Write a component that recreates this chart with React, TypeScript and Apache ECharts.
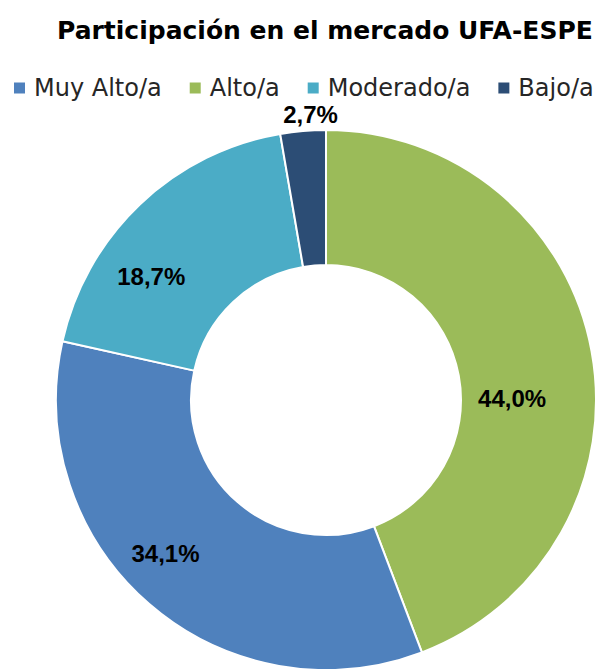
import React, { useEffect, useRef } from "react";
import * as echarts from "echarts";

const title = "Participación en el mercado UFA-ESPE";
const sliceNames = ["Alto/a", "Muy Alto/a", "Moderado/a", "Bajo/a"];
const sliceValues = [44.0, 34.1, 18.7, 2.7];
const sliceLabels = ["44,0%", "34,1%", "18,7%", "2,7%"];
const sliceColors = ["#9bbb59", "#4f81bd", "#4bacc6", "#2c4d75"];
const legendOrder = ["Muy Alto/a", "Alto/a", "Moderado/a", "Bajo/a"];
const labelShift = [
  [-16, 36],
  [-26, -2],
  [-33, 25],
  [2, -81],
];

export default function App() {
  const ref = useRef<HTMLDivElement>(null);
  useEffect(() => {
    if (!ref.current) return;
    const chart = echarts.init(ref.current, null, { renderer: "svg" });
    chart.setOption({
      animation: false,
      backgroundColor: "#ffffff",
      title: {
        text: title,
        left: 52,
        top: 13,
        textStyle: {
          fontFamily: "DejaVu Sans, sans-serif",
          fontSize: 25,
          fontWeight: "bold",
          color: "#000000",
        },
      },
      legend: {
        data: legendOrder,
        top: 71,
        left: 7,
        width: 592,
        padding: 5,
        itemWidth: 13,
        itemHeight: 13,
        itemGap: 26,
        icon: "rect",
        textStyle: {
          fontFamily: "DejaVu Sans, sans-serif",
          fontSize: 24,
          color: "#262626",
          padding: [0, 0, 0, 3],
        },
      },
      series: [
        {
          type: "pie",
          center: [326, 400],
          radius: [135, 270],
          startAngle: 90,
          clockwise: true,
          avoidLabelOverlap: false,
          itemStyle: { borderColor: "#ffffff", borderWidth: 2 },
          label: {
            show: true,
            position: "inside",
            formatter: (p: any) => sliceLabels[p.dataIndex],
            fontFamily: "Liberation Sans, Arial, sans-serif",
            fontSize: 24,
            fontWeight: "bold",
            color: "#000000",
          },
          labelLine: { show: false },
          labelLayout: (p: any) => ({
            dx: labelShift[p.dataIndex][0],
            dy: labelShift[p.dataIndex][1],
          }),
          emphasis: { disabled: true },
          data: sliceNames.map((n, i) => ({
            name: n,
            value: sliceValues[i],
            itemStyle: { color: sliceColors[i] },
          })),
        },
      ],
    });
    return () => chart.dispose();
  }, []);
  return (
    <div
      ref={ref}
      style={{ position: "fixed", left: 0, top: 0, width: 600, height: 669 }}
    />
  );
}
